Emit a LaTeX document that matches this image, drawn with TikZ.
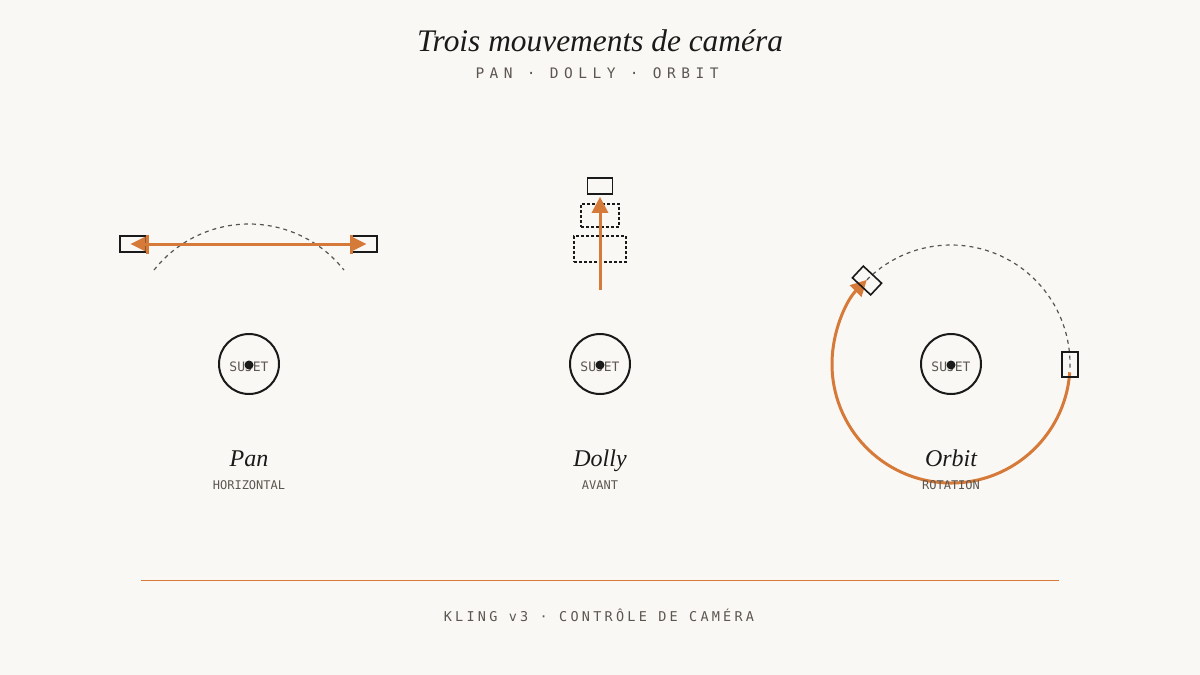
\documentclass[tikz,border=0pt]{standalone}
\usepackage{fontspec}
\usetikzlibrary{arrows.meta}
\newfontfamily\monof{DejaVu Sans Mono}
\newfontfamily\monosub[LetterSpace=38]{DejaVu Sans Mono}
\newfontfamily\monofoot[LetterSpace=24]{DejaVu Sans Mono}
\newfontfamily\titlef{Liberation Serif}
\definecolor{bg}{HTML}{FAF8F4}
\definecolor{ora}{HTML}{D67A3A}
\definecolor{ink}{HTML}{1A1A1A}
\definecolor{muted}{HTML}{5C5650}
\definecolor{dashc}{HTML}{555555}
\tikzset{
  subject/.style={circle, draw=ink, line width=2pt, minimum size=60pt, inner sep=0pt},
  subjlabel/.style={font=\monof\fontsize{13}{15}\selectfont, text=muted, anchor=base},
  cam/.style={draw=ink, line width=1.6pt, minimum width=25pt, minimum height=16pt, inner sep=0pt},
  ghost/.style={draw=ink, line width=1.2pt, dash pattern=on 3pt off 2pt, inner sep=0pt},
  trajet/.style={draw=dashc, line width=1.2pt, dash pattern=on 4pt off 4pt},
  motion/.style={draw=ora, line width=3pt},
  bigtip/.style={-{Triangle[length=16pt,width=16pt]}},
  movename/.style={font=\titlef\itshape\fontsize{24}{26}\selectfont, text=ink, anchor=base},
  movesub/.style={font=\monof\fontsize{12}{14}\selectfont, text=muted, anchor=base},
  dot/.style={circle, fill=ink, inner sep=0pt, minimum size=9pt}
}
\begin{document}
\begin{tikzpicture}[x=1pt,y=-1pt]
\fill[bg] (0,0) rectangle (1200,675);
\useasboundingbox (0,0) rectangle (1200,675);

% title
\node[anchor=base, font=\titlef\itshape\fontsize{31.4}{36}\selectfont, text=ink] (title) at (600,51) {Trois mouvements de caméra};
\node[anchor=base, font=\monosub\fontsize{14.5}{16}\selectfont, text=muted] (subtitle) at (597,78) {PAN · DOLLY · ORBIT};

% ---------- PAN ----------
\node[subject] (subjP) at (249,364) {};
\node[subjlabel] (lblP) at (249,371) {SUJET};
\node[dot] (dotP) at (249,365) {};
\draw[trajet] (249,345) ++(218.3:121) arc[start angle=218.3, end angle=321.7, radius=121];
\node[cam] (camL) at (132.5,244) {};
\node[cam] (camR) at (364.5,244) {};
\draw[motion, {Triangle[length=15pt,width=14pt]}-{Triangle[length=15pt,width=14pt]}] ([xshift=-2pt]camL.center) -- ([xshift=2pt]camR.center);
\draw[motion] ([xshift=15pt,yshift=-9.5pt]camL.center) -- ([xshift=15pt,yshift=9pt]camL.center);
\draw[motion] ([xshift=-13pt,yshift=-9.5pt]camR.center) -- ([xshift=-13pt,yshift=9pt]camR.center);
\node[movename] (nameP) at (249,466) {Pan};
\node[movesub] (subP) at (249,489) {HORIZONTAL};

% ---------- DOLLY ----------
\node[subject] (subjD) at (600,364) {};
\node[subjlabel] (lblD) at (600,371) {SUJET};
\node[dot] (dotD) at (600,365) {};
\node[ghost, minimum width=52pt, minimum height=26pt] (ghost2) at (600,249) {};
\node[ghost, minimum width=38pt, minimum height=23pt] (ghost1) at (600,215.5) {};
\node[cam] (camD) at (600,186) {};
\coordinate (dollyStart) at (600,290);
\draw[motion, bigtip] (dollyStart) -- ([yshift=-2pt]camD.south);
\node[movename] (nameD) at (600,466) {Dolly};
\node[movesub] (subD) at (600,489) {AVANT};

% ---------- ORBIT ----------
\node[subject] (subjO) at (951,364) {};
\node[subjlabel] (lblO) at (951,371) {SUJET};
\node[dot] (dotO) at (951,365) {};
\draw[trajet] (subjO.center) ++(225:119) arc[start angle=225, end angle=363, radius=119];
\draw[motion, bigtip] (subjO.center) ++(4:119) arc[start angle=4, end angle=225, radius=119];
\node[cam, rotate=90] (camO1) at (1070,364.5) {};
\node[cam, rotate=-43] (camO2) at (867,280.5) {};
\node[movename] (nameO) at (951,466) {Orbit};
\node[movesub] (subO) at (951,489) {ROTATION};

% footer
\coordinate (ruleL) at (141,580);
\coordinate (ruleR) at (1059,580);
\draw[ora, line width=1pt] (ruleL) -- (ruleR);
\node[anchor=base, font=\monofoot\fontsize{13.5}{16}\selectfont, text=muted] (footer) at (599,621) {KLING v3 · CONTRÔLE DE CAMÉRA};
\end{tikzpicture}
\end{document}
